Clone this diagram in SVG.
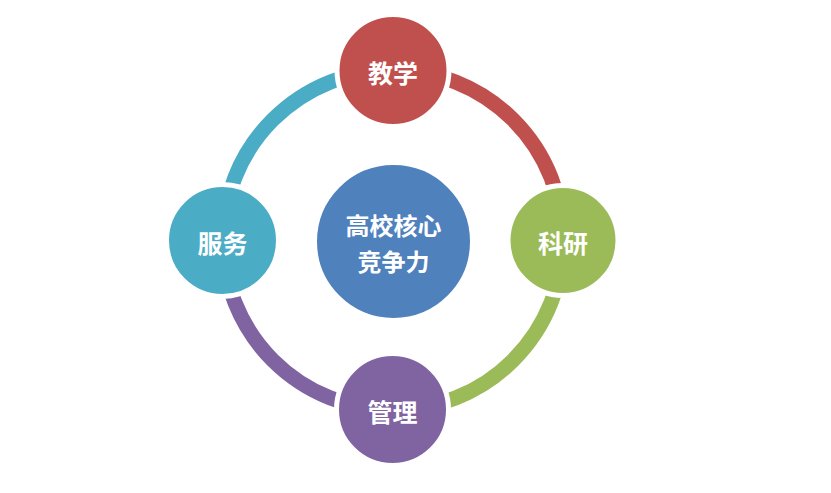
<svg xmlns="http://www.w3.org/2000/svg" width="831" height="493" viewBox="0 0 831 493">
<style>
.arc{fill:none;stroke-width:15}
.node{stroke:#fff;stroke-width:5}
.lbl{font-family:"Noto Sans CJK SC","Noto Sans",sans-serif;font-weight:bold;font-size:25px;fill:#fff;text-anchor:middle;dominant-baseline:central}
.ctr{font-size:24px}
</style>
<rect width="831" height="493" fill="#fff"/>
<g id="connectors">
<path class="arc" stroke="#C0504D" d="M393 70 A170 170 0 0 1 563 240"/>
<path class="arc" stroke="#9BBB59" d="M563 240 A170 170 0 0 1 393 410"/>
<path class="arc" stroke="#8064A2" d="M393 410 A170 170 0 0 1 223 240"/>
<path class="arc" stroke="#4BACC6" d="M223 240 A170 170 0 0 1 393 70"/>
</g>
<g id="center">
<circle class="node" cx="393.5" cy="241.5" r="79" fill="#4F81BD"/>
<text class="lbl ctr" x="393.5" y="224">高校核心</text>
<text class="lbl ctr" x="393.5" y="260">竞争力</text>
</g>
<g id="teaching">
<circle class="node" cx="393" cy="70.5" r="56" fill="#C0504D"/>
<text class="lbl" x="393" y="72">教学</text>
</g>
<g id="research">
<circle class="node" cx="563" cy="240.5" r="55" fill="#9BBB59"/>
<text class="lbl" x="563" y="242">科研</text>
</g>
<g id="management">
<circle class="node" cx="392.5" cy="409.5" r="56" fill="#8064A2"/>
<text class="lbl" x="392.5" y="411">管理</text>
</g>
<g id="service">
<circle class="node" cx="222.5" cy="240.5" r="56" fill="#4BACC6"/>
<text class="lbl" x="222.5" y="242">服务</text>
</g>
</svg>
